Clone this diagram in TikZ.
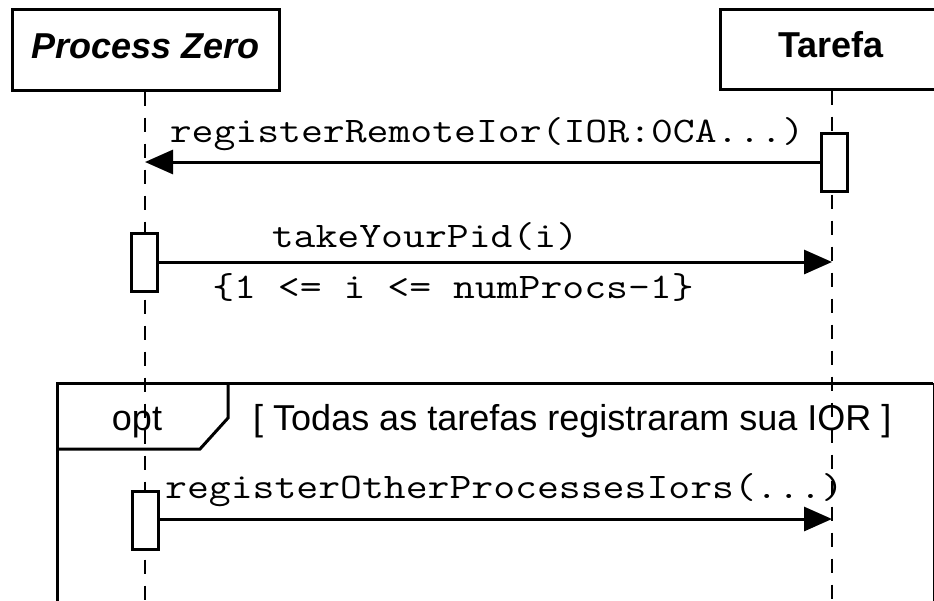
\documentclass[tikz,border=0pt]{standalone}
\usepackage{fontspec}
\usepackage{graphicx}
\setmainfont{Liberation Sans}
\newcommand{\mtxt}[1]{\scalebox{1.18}[1]{#1}}
\usetikzlibrary{arrows.meta}
\begin{document}
\begin{tikzpicture}[x=1pt,y=-1pt,
  hdr/.style={draw,line width=3pt,fill=white,inner sep=0pt,font=\fontsize{36}{40}\selectfont,text height=17pt,text depth=0pt},
  act/.style={draw,line width=3pt,fill=white,minimum width=26pt,minimum height=58pt,inner sep=0pt},
  life/.style={line width=1.5pt,dash pattern=on 14pt off 12pt},
  msg/.style={line width=3pt,-{Triangle[length=28pt,width=24pt]}},
  mlab/.style={anchor=base,inner sep=0pt,font=\ttfamily\fontsize{36}{40}\selectfont},
  slab/.style={anchor=base,inner sep=0pt,font=\fontsize{36}{40}\selectfont}]
\useasboundingbox (0,0) rectangle (934,600);
% frame
\coordinate (fTL) at (57,383);
\coordinate (fTR) at (933,383);
\coordinate (fBL) at (57,605);
\coordinate (fBR) at (933,605);
\draw[line width=3pt] (fBL) -- (fTL) -- (fTR);
\draw[line width=1pt] (fTR) -- (fBR);
\draw[line width=3pt] (57,449) -- (200,449) -- (228,418) -- (228,383);
\node[slab] (opt) at (137,430) {opt};
\node[slab,anchor=base west] (guard) at (253,430) {[ Todas as tarefas registraram sua IOR ]};
% headers
\node[hdr,minimum width=267pt,minimum height=81pt] (pz) at (145.5,49.5) {\bfseries\itshape Process Zero};
\node[hdr,minimum width=222pt,minimum height=80pt] (ta) at (831,49) {\bfseries Tarefa};
% lifelines
\coordinate (pzEnd) at (145,605);
\coordinate (taEnd) at (832,605);
\draw[life] (pz.south -| pzEnd) -- (pzEnd);
\draw[life] (ta.south -| taEnd) -- (taEnd);
% activations
\node[act] (a1) at (834,162) {};
\node[act] (a2) at (144.5,262) {};
\node[act] (a3) at (145,520) {};
% messages
\coordinate (m1) at (145,162);
\coordinate (m2) at (832,262);
\coordinate (m3) at (832,519);
\draw[msg] (a1.west |- m1) -- (m1);
\draw[msg] (a2.east |- m2) -- (m2);
\draw[msg] (a3.east |- m3) -- (m3);
\node[mlab] (l1) at (487,142) {\mtxt{registerRemoteIor(IOR:0CA...)}};
\node[mlab] (l2) at (425,247) {\mtxt{takeYourPid(i)}};
\node[mlab] (l2b) at (453,298) {\mtxt{\{1 <= i <= numProcs-1\}}};
\node[mlab,anchor=base west] (l3) at (165,498) {\mtxt{registerOtherProcessesIors(...)}};
\end{tikzpicture}
\end{document}
